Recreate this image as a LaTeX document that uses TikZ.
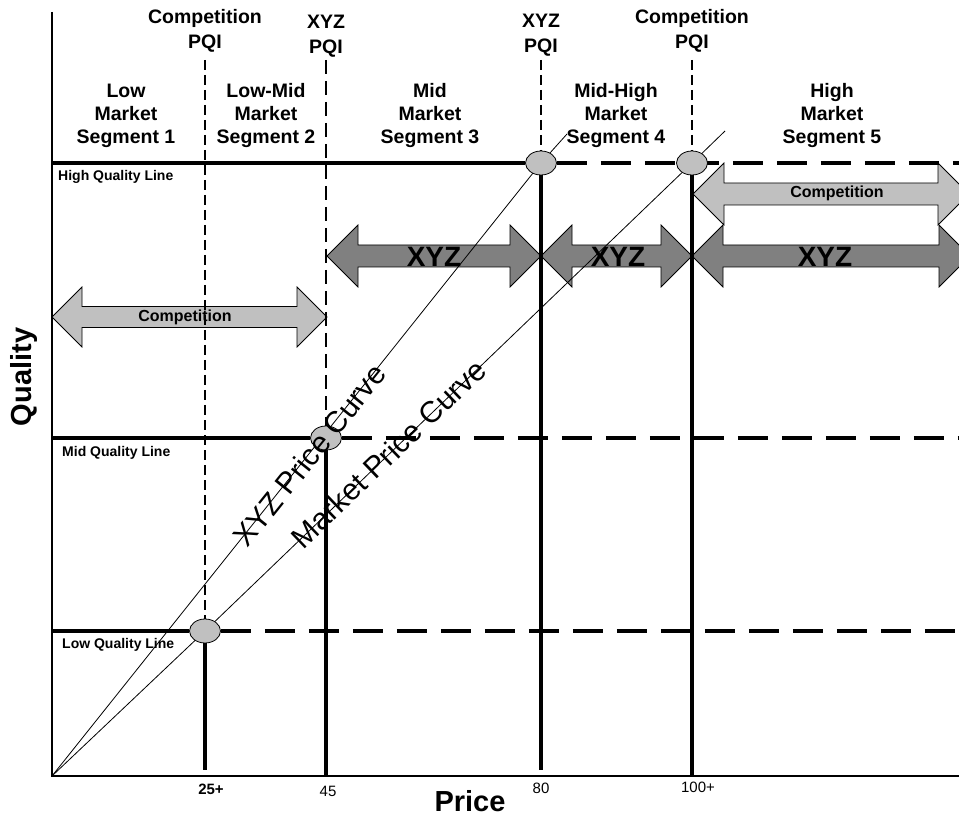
\documentclass[tikz,border=0pt]{standalone}
\usepackage{fontspec}
\setmainfont{Liberation Sans}
\usetikzlibrary{shapes.geometric, backgrounds}
\definecolor{lightfill}{HTML}{C0C0C0}
\definecolor{darkfill}{HTML}{808080}
\tikzset{
  axis/.style={line width=1.4pt},
  qline/.style={line width=3.5pt},
  qdash/.style={line width=4.5pt, dash pattern=on 30pt off 14pt},
  pline/.style={line width=4pt},
  pdash/.style={line width=2.2pt, dash pattern=on 10pt off 5pt},
  curve/.style={line width=0.8pt},
  curvelabel/.style={sloped, font=\fontsize{30}{32}\selectfont},
  pqi/.style={ellipse, draw, fill=lightfill, minimum width=31pt, minimum height=24pt, inner sep=0pt, line width=0.8pt},
  seglabel/.style={align=center, font=\fontsize{19.5}{23}\selectfont\bfseries},
  toplabel/.style={align=center, font=\fontsize{19.5}{25}\selectfont\bfseries},
  linelabel/.style={anchor=west, inner sep=0pt, font=\fontsize{14}{16}\selectfont\bfseries},
  ticklabel/.style={inner sep=0pt, font=\fontsize{15}{17}\selectfont},
  complight/.style={draw, line width=0.8pt, fill=lightfill},
  xyzdark/.style={draw, line width=0.8pt, fill=darkfill},
  complabel/.style={font=\fontsize{16}{18}\selectfont\bfseries},
  xyzlabel/.style={font=\fontsize{28}{30}\selectfont\bfseries}
}
% double block arrow: style, left x, right x, y, shaft half, head half
\newcommand{\pqarrow}[6]{%
  \draw[#1] (#2,#4) -- ({#2+#6},{#4-#6}) -- ({#2+#6},{#4-#5}) -- ({#3-#6},{#4-#5})
    -- ({#3-#6},{#4-#6}) -- (#3,#4) -- ({#3-#6},{#4+#6}) -- ({#3-#6},{#4+#5})
    -- ({#2+#6},{#4+#5}) -- ({#2+#6},{#4+#6}) -- cycle;}
\begin{document}
\begin{tikzpicture}[x=1pt, y=-1pt]
\useasboundingbox (0,0) rectangle (959,818);

% PQI points
\node[pqi] (pLow) at (205,631) {};
\node[pqi] (pMid) at (326,438) {};
\node[pqi] (pHigh) at (541,163) {};
\node[pqi] (pTop) at (692,163) {};

\begin{scope}[on background layer]
% block arrows
\begin{scope}
\clip (0,0) rectangle (959,818);
\pqarrow{complight}{52}{327}{317}{10.5}{30}
\pqarrow{xyzdark}{327}{541}{256}{11}{31}
\pqarrow{xyzdark}{541}{692}{256}{11}{31}
\pqarrow{xyzdark}{692}{970}{256}{11}{31}
\pqarrow{complight}{693}{969}{194}{11}{31}
\end{scope}

% axes
\coordinate (o) at (52,776);
\coordinate (ytop) at (52,12);
\coordinate (xend) at (959,776);
\draw[axis] (ytop) -- (o) -- (xend);

% price curves
\coordinate (xyzEnd) at (567,134);
\coordinate (mktEnd) at (725,131);
\draw[curve] (o) -- (pLow.center) -- (pTop.center) -- (mktEnd);
\draw[curve] (o) -- (pHigh.center) -- (xyzEnd);

% quality lines
\draw[qline] (52,163) -- (pHigh);
\draw[qdash] (pHigh.east) -- (959,163);
\draw[qline] (52,438) -- (pMid);
\draw[qdash] (pMid.east) -- (959,438);
\draw[qline] (52,631) -- (pLow);
\draw[qdash] (pLow.east) -- (959,631);

% price lines
\draw[pdash] (205,60) -- (pLow);
\draw[pline] (pLow) -- (205,770);
\draw[pdash, line width=2.6pt, dash pattern=on 14pt off 7pt] (326,60) -- (pMid);
\draw[pline] (pMid) -- (326,776);
\draw[pdash] (541,60) -- (pHigh);
\draw[pline] (pHigh) -- (541,770);
\draw[pdash] (692,60) -- (pTop);
\draw[pline] (pTop) -- (692,776);
\end{scope}

% curve labels
\path (o) -- node[curvelabel] (xyzCurve) {XYZ Price Curve} (xyzEnd);
\path (o) -- node[curvelabel] (mktCurve) {Market Price Curve} (mktEnd);

% arrow labels
\node[complabel] (compLeft) at (185,317) {Competition};
\node[complabel] (compRight) at (837,193) {Competition};
\node[xyzlabel] (xyzMid) at (434,257) {XYZ};
\node[xyzlabel] (xyzMidHigh) at (618,257) {XYZ};
\node[xyzlabel] (xyzHigh) at (825,257) {XYZ};

% PQI labels
\node[toplabel] (compPqiA) at (205,31) {Competition\\PQI};
\node[toplabel] (xyzPqiA) at (326,36) {XYZ\\PQI};
\node[toplabel] (xyzPqiB) at (541,35) {XYZ\\PQI};
\node[toplabel] (compPqiB) at (692,31) {Competition\\PQI};

% segment labels
\node[seglabel] (seg1) at (126,116) {Low\\Market\\Segment 1};
\node[seglabel] (seg2) at (266,116) {Low-Mid\\Market\\Segment 2};
\node[seglabel] (seg3) at (430,116) {Mid\\Market\\Segment 3};
\node[seglabel] (seg4) at (616,116) {Mid-High\\Market\\Segment 4};
\node[seglabel] (seg5) at (832,116) {High\\Market\\Segment 5};

% quality line labels
\node[linelabel] (highQ) at (58,177) {High Quality Line};
\node[linelabel] (midQ) at (62,453) {Mid Quality Line};
\node[linelabel] (lowQ) at (62,645) {Low Quality Line};

% ticks
\node[ticklabel, font=\fontsize{15}{17}\selectfont\bfseries] (t25) at (211,789) {25+};
\node[ticklabel] (t45) at (328,791) {45};
\node[ticklabel] (t80) at (541,788) {80};
\node[ticklabel] (t100) at (698,787) {100+};

% axis titles
\node[font=\fontsize{29}{32}\selectfont\bfseries] (priceTitle) at (470,801) {Price};
\node[rotate=90, font=\fontsize{29}{32}\selectfont\bfseries] (qualityTitle) at (24,377) {Quality};
\end{tikzpicture}
\end{document}
